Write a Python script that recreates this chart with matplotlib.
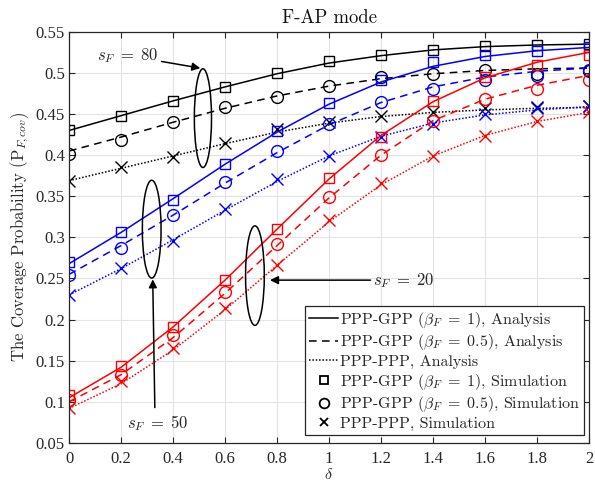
import matplotlib
matplotlib.use('Agg')
import matplotlib.pyplot as plt
from matplotlib.patches import Ellipse
from matplotlib.lines import Line2D

plt.rcParams['font.family'] = ['Liberation Serif', 'DejaVu Serif']
plt.rcParams['mathtext.fontset'] = 'cm'
CM = ['cmr10', 'DejaVu Serif']

delta = [0, 0.2, 0.4, 0.6, 0.8, 1.0, 1.2, 1.4, 1.6, 1.8, 2.0]

# analysis curves (s_F = 80 black, 50 blue, 20 red)
ana_k_gpp1 = [0.430, 0.448, 0.466, 0.483, 0.499, 0.512, 0.521, 0.528, 0.532, 0.534, 0.535]
ana_k_gpp05 = [0.405, 0.422, 0.440, 0.457, 0.472, 0.484, 0.493, 0.499, 0.503, 0.505, 0.506]
ana_k_ppp = [0.369, 0.384, 0.399, 0.414, 0.428, 0.439, 0.447, 0.452, 0.455, 0.457, 0.458]
ana_b_gpp1 = [0.268, 0.306, 0.347, 0.389, 0.428, 0.462, 0.489, 0.508, 0.520, 0.527, 0.531]
ana_b_gpp05 = [0.255, 0.290, 0.327, 0.366, 0.403, 0.437, 0.464, 0.483, 0.495, 0.502, 0.506]
ana_b_ppp = [0.230, 0.262, 0.297, 0.333, 0.368, 0.399, 0.423, 0.439, 0.449, 0.455, 0.459]
ana_r_gpp1 = [0.105, 0.142, 0.191, 0.248, 0.310, 0.371, 0.424, 0.465, 0.494, 0.513, 0.525]
ana_r_gpp05 = [0.100, 0.133, 0.178, 0.232, 0.290, 0.348, 0.400, 0.442, 0.468, 0.485, 0.497]
ana_r_ppp = [0.092, 0.122, 0.163, 0.212, 0.266, 0.319, 0.364, 0.399, 0.424, 0.441, 0.452]

# simulation points
sim_k_gpp1 = [0.430, 0.448, 0.466, 0.483, 0.500, 0.514, 0.522, 0.528, 0.533, 0.534, 0.535]
sim_k_gpp05 = [0.402, 0.419, 0.440, 0.458, 0.471, 0.484, 0.495, 0.499, 0.503, 0.499, 0.502]
sim_k_ppp = [0.369, 0.385, 0.398, 0.415, 0.432, 0.440, 0.448, 0.453, 0.457, 0.458, 0.460]
sim_b_gpp1 = [0.270, 0.307, 0.346, 0.389, 0.429, 0.464, 0.491, 0.513, 0.522, 0.527, 0.532]
sim_b_gpp05 = [0.254, 0.287, 0.327, 0.367, 0.405, 0.438, 0.465, 0.481, 0.491, 0.496, 0.503]
sim_b_ppp = [0.230, 0.263, 0.296, 0.335, 0.371, 0.399, 0.422, 0.438, 0.450, 0.457, 0.460]
sim_r_gpp1 = [0.108, 0.144, 0.191, 0.248, 0.310, 0.372, 0.422, 0.466, 0.495, 0.510, 0.522]
sim_r_gpp05 = [0.102, 0.133, 0.181, 0.234, 0.292, 0.349, 0.400, 0.441, 0.468, 0.481, 0.491]
sim_r_ppp = [0.092, 0.125, 0.165, 0.214, 0.267, 0.321, 0.366, 0.399, 0.423, 0.441, 0.453]

legend_labels = [
    r'PPP-GPP ($\beta_F\;=\;1$), Analysis',
    r'PPP-GPP ($\beta_F\;=\;0.5$), Analysis',
    'PPP-PPP, Analysis',
    r'PPP-GPP ($\beta_F\;=\;1$), Simulation',
    r'PPP-GPP ($\beta_F\;=\;0.5$), Simulation',
    'PPP-PPP, Simulation',
]

fig = plt.figure(figsize=(5.95, 4.82), dpi=100)
ax = fig.add_axes([0.116, 0.081, 0.874, 0.853])

groups = [
    ('k', ana_k_gpp1, ana_k_gpp05, ana_k_ppp, sim_k_gpp1, sim_k_gpp05, sim_k_ppp),
    ((0, 0, 1), ana_b_gpp1, ana_b_gpp05, ana_b_ppp, sim_b_gpp1, sim_b_gpp05, sim_b_ppp),
    ((1, 0, 0), ana_r_gpp1, ana_r_gpp05, ana_r_ppp, sim_r_gpp1, sim_r_gpp05, sim_r_ppp),
]

dash = (0, (5, 3.5))
dot = (0, (1, 1.2))
for c, a1, a05, ap, s1, s05, sp in groups:
    ax.plot(delta, a1, '-', color=c, lw=1.1)
    ax.plot(delta, a05, linestyle=dash, color=c, lw=1.1)
    ax.plot(delta, ap, linestyle=dot, color=c, lw=1.1)
    ax.plot(delta, s1, 's', color=c, mfc='none', ms=7.5, mew=1.0)
    ax.plot(delta, s05, 'o', color=c, mfc='none', ms=8.5, mew=1.0)
    ax.plot(delta, sp, 'x', color=c, ms=8, mew=1.0)

# ellipses marking the s_F groups
for cx, cy, w, h in [(0.515, 0.445, 0.066, 0.12), (0.318, 0.31, 0.072, 0.119), (0.715, 0.2535, 0.072, 0.121)]:
    ax.add_patch(Ellipse((cx, cy), w, h, fill=False, ec='k', lw=1.1, zorder=5))

arrow = dict(arrowstyle='-|>', color='k', lw=1.1, mutation_scale=12, shrinkA=0, shrinkB=0)
ax.annotate(r'$s_F\;=\;80$', xy=(0.505, 0.5058), xytext=(0.345, 0.521),
            ha='right', va='center', fontsize=12, color='#262626', arrowprops=arrow)
ax.annotate('', xy=(0.322, 0.249), xytext=(0.33, 0.093), arrowprops=arrow)
ax.text(0.34, 0.074, r'$s_F\;=\;50$', ha='center', va='center', fontsize=12, color='#262626')
ax.annotate(r'$s_F\;=\;20$', xy=(0.773, 0.248), xytext=(1.17, 0.248),
            ha='left', va='center', fontsize=12, color='#262626', arrowprops=arrow)

handles = [
    Line2D([], [], color='k', ls='-', lw=1.1),
    Line2D([], [], color='k', ls=dash, lw=1.1),
    Line2D([], [], color='k', ls=dot, lw=1.1),
    Line2D([], [], color='k', ls='none', marker='s', mfc='none', ms=6, mew=1.3),
    Line2D([], [], color='k', ls='none', marker='o', mfc='none', ms=7, mew=1.3),
    Line2D([], [], color='k', ls='none', marker='x', ms=6, mew=1.3),
]
leg = ax.legend(handles, legend_labels, loc='lower right', bbox_to_anchor=(0.99, 0.0195),
                borderaxespad=0, prop={'family': CM, 'size': 11.5}, handlelength=1.8,
                handletextpad=0.1, labelspacing=0.16, borderpad=0.25, fancybox=False,
                framealpha=1)
leg.get_frame().set_edgecolor('#262626')
leg.get_frame().set_linewidth(0.9)
for t in leg.get_texts():
    t.set_color('#262626')

ax.set_xlim(0, 2)
ax.set_ylim(0.05, 0.55)
ax.set_xticks([0, 0.2, 0.4, 0.6, 0.8, 1.0, 1.2, 1.4, 1.6, 1.8, 2.0])
ax.set_xticklabels(['0', '0.2', '0.4', '0.6', '0.8', '1', '1.2', '1.4', '1.6', '1.8', '2'])
ax.set_yticks([0.05, 0.1, 0.15, 0.2, 0.25, 0.3, 0.35, 0.4, 0.45, 0.5, 0.55])
ax.set_yticklabels(['0.05', '0.1', '0.15', '0.2', '0.25', '0.3', '0.35', '0.4', '0.45', '0.5', '0.55'])
ax.grid(True, color='#e3e3e3', lw=0.8)
ax.set_axisbelow(True)
ax.tick_params(direction='in', top=True, right=True, labelsize=12, colors='#262626', length=4)
ax.tick_params(axis='x', pad=5.5)
ax.tick_params(axis='y', pad=3)
for s in ax.spines.values():
    s.set_color('#262626')
    s.set_linewidth(0.9)

ax.set_title('F-AP mode', fontsize=13.5, family=CM, color='#111111', pad=6)
ax.set_xlabel(r'$\delta$', fontsize=11.5, color='#262626', labelpad=0.5)
ax.set_ylabel(r'The Coverage Probability ($\mathrm{P}_{F,cov}$)', fontsize=12, family=CM,
              color='#262626', labelpad=3)

fig.savefig('out.png', dpi=100)
